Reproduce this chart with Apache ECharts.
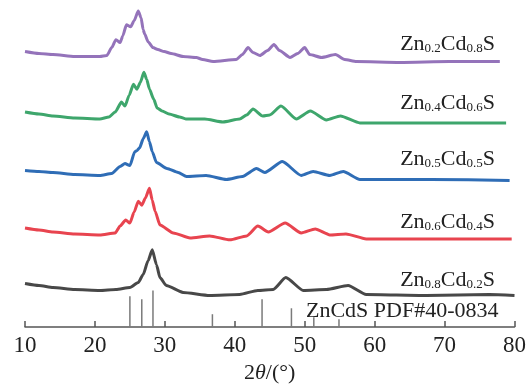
<!DOCTYPE html>
<html>
<head>
<meta charset="utf-8">
<script src="https://cdn.jsdelivr.net/npm/echarts@6/dist/echarts.min.js"></script>
<style>
  html, body { margin: 0; padding: 0; background: #fff; }
  #chart { width: 529px; height: 389px; }
</style>
</head>
<body>
<div id="chart"></div>
<script>
// XRD patterns of Zn(x)Cd(1-x)S samples, stacked (intensity in offset arbitrary units)
const sampleNames = ['Zn0.2Cd0.8S', 'Zn0.4Cd0.6S', 'Zn0.5Cd0.5S', 'Zn0.6Cd0.4S', 'Zn0.8Cd0.2S'];

const xrdZn02 = [[10.0,278],[12.0,276],[14.0,275],[17.1,273],[20.7,273],[21.7,274],[22.4,282],[23.0,290],[23.6,287],[24.0,294],[24.5,305],[25.1,303],[25.6,309],[26.2,319],[26.6,312],[26.9,300],[27.1,296],[27.6,288],[28.3,282],[29.0,280],[29.9,278],[30.9,276],[32.6,273],[34.5,272],[35.4,270],[36.9,268],[40.2,270],[41.1,275],[41.9,282],[42.6,277],[43.6,274],[44.7,279],[45.6,285],[46.4,279],[47.9,272],[49.0,276],[50.0,282],[50.7,275],[52.4,272],[54.4,275],[55.7,270],[57.4,268],[63.6,267],[70.7,268],[77.9,268]];

const xrdZn04 = [[10.0,217],[12.0,215],[14.0,213],[17.1,211],[20.7,210],[22.0,212],[22.9,217],[23.8,227],[24.3,223],[24.9,234],[25.5,245],[26.0,240],[26.5,247],[27.0,257],[27.4,250],[27.8,240],[28.4,230],[28.9,221],[29.6,218],[30.6,215],[32.1,212],[33.0,210],[35.7,210],[38.3,207],[40.7,210],[41.7,214],[42.6,220],[44.0,213],[45.0,214],[46.6,223],[48.8,210],[50.8,218],[53.1,209],[55.1,213],[57.9,206],[68.0,206],[78.8,206]];

const xrdZn05 = [[10.0,158],[12.0,157],[14.0,156],[17.1,154],[20.7,153],[22.4,155],[23.6,162],[24.3,165],[25.0,163],[25.7,177],[26.0,178],[26.4,181],[26.9,190],[27.4,197],[27.8,187],[28.2,177],[28.8,166],[30.3,160],[31.9,156],[33.1,152],[35.9,153],[38.8,149],[41.1,152],[43.1,160],[44.3,156],[46.8,167],[49.5,153],[51.2,157],[53.6,153],[55.5,157],[57.9,149],[68.0,149],[79.3,148]];

const xrdZn06 = [[10.0,100],[12.0,98],[14.0,96],[17.1,94],[20.7,93],[22.9,95],[23.6,102],[24.4,108],[25.0,105],[25.6,116],[26.2,127],[26.7,123],[27.2,130],[27.8,140],[28.2,128],[28.6,117],[29.3,103],[31.2,95],[33.6,90],[36.4,92],[39.3,88],[41.7,92],[43.3,102],[44.8,96],[47.2,105],[49.5,95],[51.5,99],[53.6,93],[55.9,94],[58.8,89],[70.0,89],[79.6,89]];

const xrdZn08 = [[10.0,44],[12.0,42],[14.0,40],[17.1,38],[20.7,37],[23.0,38],[25.0,40],[26.2,45],[26.9,53],[27.6,67],[28.2,78],[28.8,63],[29.3,50],[30.2,42],[32.6,35],[36.4,32],[40.7,33],[43.3,37],[45.5,38],[47.3,50],[49.8,37],[53.1,38],[56.2,42],[58.8,33],[67.4,32],[76.4,33],[80.0,32]];

// Reference pattern ZnCdS PDF#40-0834: [2θ, relative height]
const pdfName = 'ZnCdS PDF#40-0834';
const pdfSticks = [[25.0,31],[26.7,28],[28.3,37],[36.8,13],[43.9,28],[48.1,19],[51.3,10],[54.9,8]];

const xTicks = { min: 10, max: 80, step: 10 };

const patterns = [xrdZn02, xrdZn04, xrdZn05, xrdZn06, xrdZn08];
const colors = ['#9473ba', '#3ea66c', '#2f6db6', '#e8444f', '#484848'];
const labelBaselines = [52, 111, 167, 230, 288];

const serif = '"Liberation Serif", "Times New Roman", serif';

function richName(name) {
  return '{m|' + name.replace(/(\d+\.\d+)/g, '}{s|$1}{m|') + '}';
}

const chart = echarts.init(document.getElementById('chart'), null, { renderer: 'canvas' });

const series = patterns.map((d, i) => ({
  name: sampleNames[i],
  type: 'line',
  data: d,
  showSymbol: false,
  symbol: 'none',
  smooth: 0.2,
  smoothMonotone: 'x',
  lineStyle: { color: colors[i], width: 3 },
  z: 3
}));

series.push({
  name: pdfName,
  type: 'custom',
  data: pdfSticks,
  renderItem: function (params, api) {
    const top = api.coord([api.value(0), api.value(1)]);
    const base = api.coord([api.value(0), 0]);
    return {
      type: 'line',
      shape: { x1: top[0], y1: top[1], x2: base[0], y2: base[1] },
      style: { stroke: '#7a7a7a', lineWidth: 1.5 }
    };
  },
  z: 2
});

const graphics = sampleNames.map((n, i) => ({
  type: 'text',
  right: 34,
  top: labelBaselines[i] - 19,
  style: {
    text: richName(n),
    fill: '#222',
    rich: {
      m: { fontFamily: serif, fontSize: 22, lineHeight: 22, verticalAlign: 'bottom', fill: '#222' },
      s: { fontFamily: serif, fontSize: 13, lineHeight: 15, verticalAlign: 'bottom', fill: '#222' }
    }
  }
}));
graphics.push({
  type: 'text',
  left: 306,
  top: 319 - 19,
  style: { text: pdfName, fill: '#222', font: '22px ' + serif }
});

chart.setOption({
  animation: false,
  backgroundColor: '#fff',
  grid: { left: 25, right: 14, top: 0, bottom: 59, containLabel: false },
  xAxis: {
    type: 'value',
    min: xTicks.min,
    max: xTicks.max,
    interval: xTicks.step,
    name: '{n|2}{i|θ}{n|/(°)}',
    nameLocation: 'middle',
    nameGap: 34,
    nameTextStyle: {
      rich: {
        n: { fontFamily: serif, fontSize: 22, color: '#222' },
        i: { fontFamily: serif, fontSize: 22, fontStyle: 'italic', color: '#222' }
      }
    },
    axisLine: { lineStyle: { color: '#555', width: 1.5 } },
    axisTick: { inside: true, length: 6, lineStyle: { color: '#555', width: 1.5 } },
    axisLabel: { fontFamily: serif, fontSize: 23, color: '#222', margin: 7 },
    splitLine: { show: false }
  },
  yAxis: { type: 'value', min: 0, max: 330, show: false },
  series: series,
  graphic: graphics
});
</script>
</body>
</html>
